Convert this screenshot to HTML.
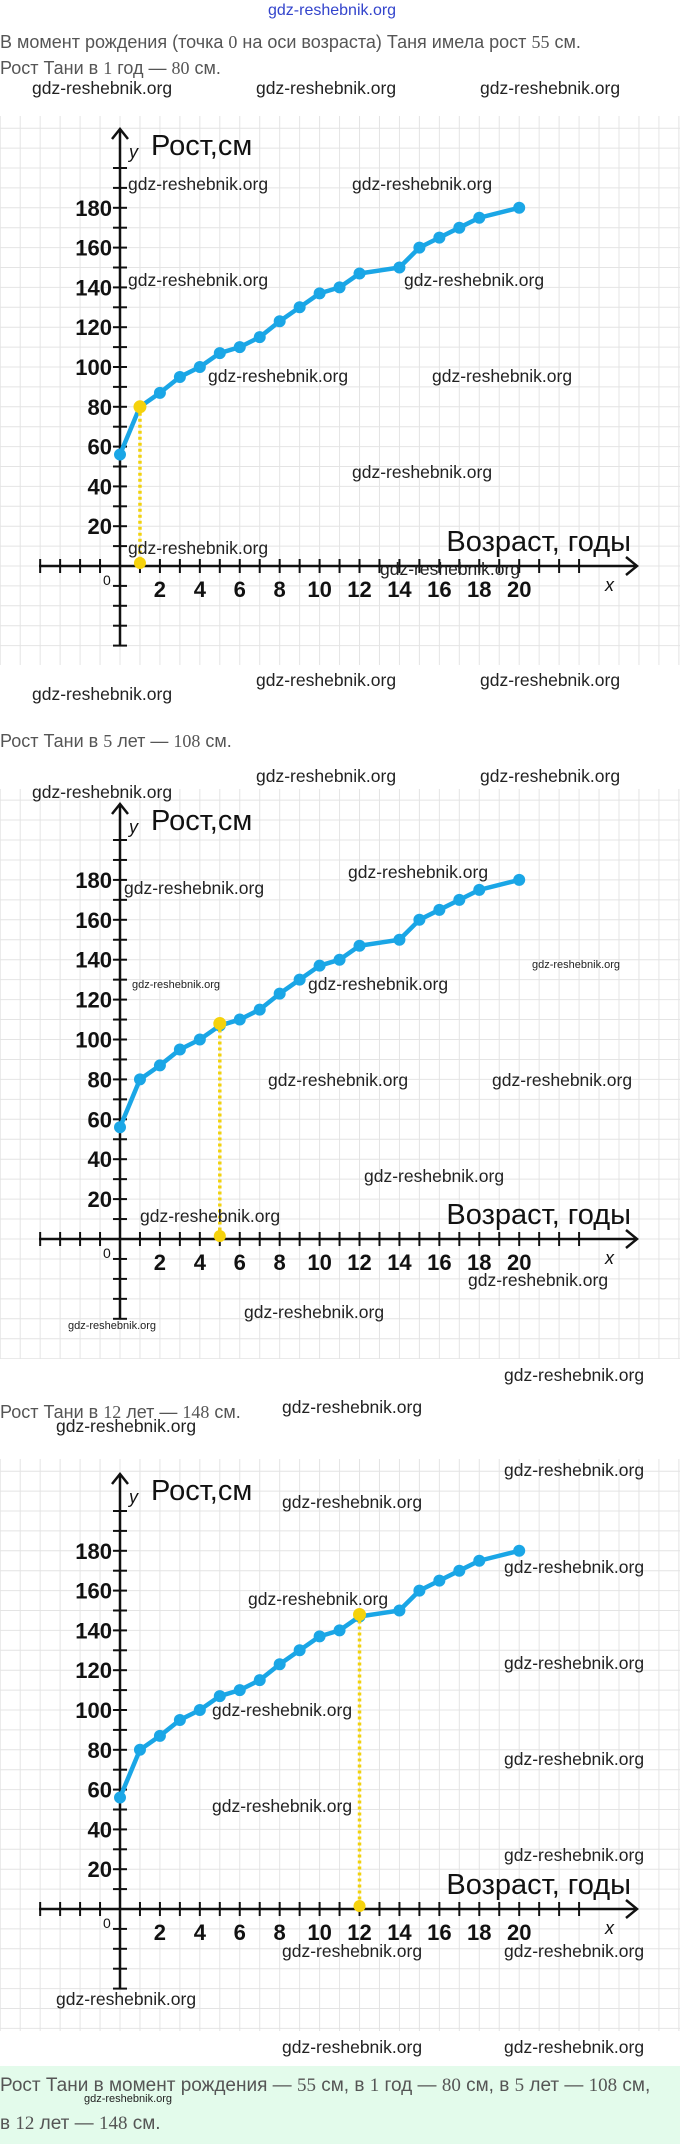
<!DOCTYPE html>
<html><head><meta charset="utf-8"><style>
body{margin:0;background:#fff;width:680px;height:2144px;position:relative;overflow:hidden;font-family:"Liberation Sans",sans-serif}
.t{position:absolute;left:0;font-size:18px;color:#555;white-space:nowrap}
.w{position:absolute;font-size:17.5px;color:#222;white-space:nowrap}
svg{position:absolute;left:0}
</style></head><body>
<div class="w" style="left:268px;top:2px;color:#3344cc;font-size:16px">gdz-reshebnik.org</div>
<div class="t" style="top:32px">В момент рождения (точка <span style="font-family:'Liberation Serif'">0</span> на оси возраста) Таня имела рост <span style="font-family:'Liberation Serif'">55</span> см.</div>
<div class="t" style="top:58px">Рост Тани в <span style="font-family:'Liberation Serif'">1</span> год — <span style="font-family:'Liberation Serif'">80</span> см.</div>
<div class="t" style="top:731px">Рост Тани в <span style="font-family:'Liberation Serif'">5</span> лет — <span style="font-family:'Liberation Serif'">108</span> см.</div>
<div class="t" style="top:1402px">Рост Тани в <span style="font-family:'Liberation Serif'">12</span> лет — <span style="font-family:'Liberation Serif'">148</span> см.</div>
<div style="position:absolute;left:0;top:2066px;width:680px;height:78px;background:#e3fbeb"></div>
<div class="t" style="top:2075px;font-size:19px">Рост Тани в момент рождения — <span style="font-family:'Liberation Serif'">55</span> см, в <span style="font-family:'Liberation Serif'">1</span> год — <span style="font-family:'Liberation Serif'">80</span> см, в <span style="font-family:'Liberation Serif'">5</span> лет — <span style="font-family:'Liberation Serif'">108</span> см,</div>
<div class="t" style="top:2113px;font-size:19px">в <span style="font-family:'Liberation Serif'">12</span> лет — <span style="font-family:'Liberation Serif'">148</span> см.</div>
<div id="charts"></div>
<div id="wm"></div>
<script>
var data=[[0,56],[1,80],[2,87],[3,95],[4,100],[5,107],[6,110],[7,115],[8,123],[9,130],[10,137],[11,140],[12,147],[14,150],[15,160],[16,165],[17,170],[18,175],[20,180]];
function chart(top,bot,ay,p20,arrowTop,yBot,hx,hy){
 var ox=120,ux=19.96,pc=p20/20,h=bot-top;
 var s='<svg width="680" height="'+h+'" style="top:'+top+'px" viewBox="0 '+top+' 680 '+h+'">';
 for(var x=ox-6*ux;x<680;x+=ux/1)s+='<line x1="'+x+'" y1="'+top+'" x2="'+x+'" y2="'+bot+'" stroke="#e4e4e4" stroke-width="1"/>';
 for(var k=-20;k<40;k++){var y=ay-k*pc*10;if(y>=top&&y<=bot)s+='<line x1="0" y1="'+y+'" x2="680" y2="'+y+'" stroke="#e4e4e4" stroke-width="1"/>';}
 s+='<line x1="39" y1="'+ay+'" x2="636" y2="'+ay+'" stroke="#111" stroke-width="2.5"/>';
 s+='<polyline points="626,'+(ay-9)+' 637,'+ay+' 626,'+(ay+9)+'" fill="none" stroke="#111" stroke-width="2.5"/>';
 s+='<line x1="'+ox+'" y1="'+(arrowTop+1)+'" x2="'+ox+'" y2="'+yBot+'" stroke="#111" stroke-width="2.5"/>';
 s+='<polyline points="'+(ox-8)+','+(arrowTop+10)+' '+ox+','+arrowTop+' '+(ox+8)+','+(arrowTop+10)+'" fill="none" stroke="#111" stroke-width="2.5"/>';
 for(var i=-4;i<=23;i++){var x=ox+i*ux;if(i!=0)s+='<line x1="'+x+'" y1="'+(ay-7)+'" x2="'+x+'" y2="'+(ay+7)+'" stroke="#111" stroke-width="2"/>';}
 for(var k=-4;k<=20;k++){var y=ay-k*pc*10;if(k!=0&&y>arrowTop+12)s+='<line x1="'+(ox-7)+'" y1="'+y+'" x2="'+(ox+7)+'" y2="'+y+'" stroke="#111" stroke-width="2"/>';}
 for(var v=20;v<=180;v+=20)s+='<text x="'+(ox-8)+'" y="'+(ay-v*pc+8)+'" text-anchor="end" font-size="22" font-weight="bold" fill="#111">'+v+'</text>';
 for(var v=2;v<=20;v+=2)s+='<text x="'+(ox+v*ux)+'" y="'+(ay+31)+'" text-anchor="middle" font-size="22" font-weight="bold" fill="#111">'+v+'</text>';
 s+='<text x="103" y="'+(ay+19)+'" font-size="14" fill="#111">0</text>';
 s+='<text x="129" y="'+(arrowTop+29)+'" font-size="18" font-style="italic" fill="#111">y</text>';
 s+='<text x="151" y="'+(arrowTop+26)+'" font-size="29" fill="#111">Рост,см</text>';
 s+='<text x="631" y="'+(ay-15)+'" text-anchor="end" font-size="29" fill="#111">Возраст, годы</text>';
 s+='<text x="605" y="'+(ay+25)+'" font-size="18" font-style="italic" fill="#111">x</text>';
 var pts=data.map(function(d){return (ox+d[0]*ux)+','+(ay-d[1]*pc)}).join(' ');
 s+='<polyline points="'+pts+'" fill="none" stroke="#1aa6e6" stroke-width="4.5" stroke-linejoin="round"/>';
 data.forEach(function(d){s+='<circle cx="'+(ox+d[0]*ux)+'" cy="'+(ay-d[1]*pc)+'" r="6" fill="#1aa6e6"/>';});
 var hxp=ox+hx*ux,hyp=ay-hy*pc;
 s+='<line x1="'+hxp+'" y1="'+hyp+'" x2="'+hxp+'" y2="'+ay+'" stroke="#f2d20c" stroke-width="3.5" stroke-dasharray="3,3"/>';
 s+='<circle cx="'+hxp+'" cy="'+hyp+'" r="6.5" fill="#f5d20c"/><circle cx="'+hxp+'" cy="'+(ay-3)+'" r="6" fill="#f5d20c"/>';
 return s+'</svg>';
}
document.getElementById('charts').innerHTML=
 chart(116,665,566,39.8,129,645,1,80)+
 chart(789,1359,1239,39.9,804,1318,5,108)+
 chart(1459,2031,1909,39.8,1474,1989,12,148);
var wm=[[32,78],[256,78],[480,78],[128,174],[352,174],[128,270],[404,270],[208,366],[432,366],[352,462],[128,538],[380,559],[256,670],[480,670],[32,684],
[32,782],[256,766],[480,766],[124,878],[348,862],[308,974],[268,1070],[492,1070],[364,1166],[140,1206],[468,1270],[244,1302],[504,1365],
[282,1397],[56,1416],[504,1460],[282,1492],[504,1557],[248,1589],[504,1653],[212,1700],[504,1749],[212,1796],[504,1845],[282,1941],[504,1941],[56,1989],[282,2037],[504,2037]];
var h='';wm.forEach(function(p){h+='<div class="w" style="left:'+p[0]+'px;top:'+p[1]+'px">gdz-reshebnik.org</div>';});
h+='<div class="w" style="left:84px;top:2093px;font-size:11px">gdz-reshebnik.org</div>';
h+='<div class="w" style="left:132px;top:979px;font-size:11px">gdz-reshebnik.org</div>';
h+='<div class="w" style="left:532px;top:959px;font-size:11px">gdz-reshebnik.org</div>';
h+='<div class="w" style="left:68px;top:1320px;font-size:11px">gdz-reshebnik.org</div>';
document.getElementById('wm').innerHTML=h;
</script>
</body></html>
